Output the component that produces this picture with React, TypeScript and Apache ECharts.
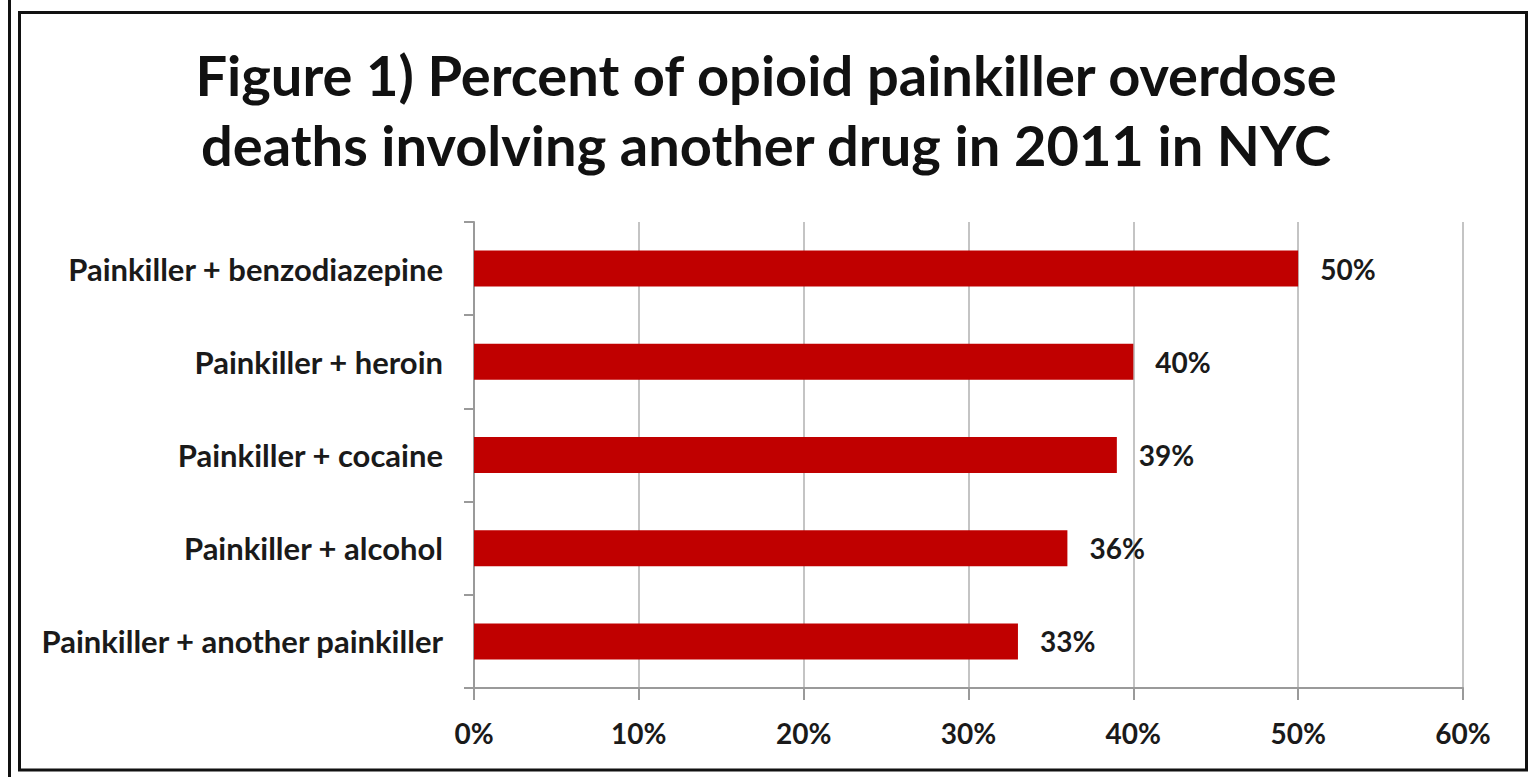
import React, { useEffect, useRef } from "react";
import * as echarts from "echarts";

const categories = [
  "Painkiller + benzodiazepine",
  "Painkiller + heroin",
  "Painkiller + cocaine",
  "Painkiller + alcohol",
  "Painkiller + another painkiller",
];
const values = [50, 40, 39, 36, 33];
const titleLines = [
  "Figure 1) Percent of opioid painkiller overdose",
  "deaths involving another drug in 2011 in NYC",
];

const FONT = "Lato";

export default function App() {
  const ref = useRef<HTMLDivElement>(null);
  useEffect(() => {
    if (!ref.current) return;
    const chart = echarts.init(ref.current, undefined, { renderer: "svg" });
    chart.setOption({
      animation: false,
      backgroundColor: "#ffffff",
      title: {
        text: titleLines.join("\n"),
        left: "center",
        top: 34,
        textStyle: {
          fontFamily: FONT,
          fontWeight: "bold",
          fontSize: 56,
          lineHeight: 70,
          color: "#111111",
        },
      },
      graphic: [
        {
          type: "line",
          shape: { x1: 9.5, y1: 0, x2: 9.5, y2: 777 },
          style: { stroke: "#111", lineWidth: 3 },
        },
        {
          type: "rect",
          shape: { x: 19.5, y: 12.5, width: 1507, height: 757.5 },
          style: { fill: "none", stroke: "#111", lineWidth: 3 },
        },
      ],
      grid: { left: 474, right: 69, top: 222, bottom: 89, containLabel: false },
      xAxis: {
        type: "value",
        min: 0,
        max: 60,
        interval: 10,
        axisLine: { show: true, lineStyle: { color: "#9a9a9a", width: 2 } },
        axisTick: { show: true, length: 12, lineStyle: { color: "#9a9a9a", width: 2 } },
        splitLine: { show: true, lineStyle: { color: "#c4c4c4", width: 2 } },
        axisLabel: {
          formatter: "{value}%",
          margin: 31,
          fontFamily: FONT,
          fontWeight: "bold",
          fontSize: 28,
          color: "#1a1a1a",
        },
      },
      yAxis: {
        type: "category",
        data: categories,
        inverse: true,
        axisLine: { show: true, lineStyle: { color: "#9a9a9a", width: 2 } },
        axisTick: { show: true, length: 10, interval: 0, lineStyle: { color: "#9a9a9a", width: 2 } },
        axisLabel: {
          margin: 31,
          fontFamily: FONT,
          fontWeight: "bold",
          fontSize: 31,
          color: "#1a1a1a",
        },
      },
      series: [
        {
          type: "bar",
          data: values,
          barWidth: 36,
          itemStyle: { color: "#c00000" },
          label: {
            show: true,
            position: "right",
            distance: 22,
            formatter: "{c}%",
            fontFamily: FONT,
            fontWeight: "bold",
            fontSize: 28,
            color: "#1a1a1a",
          },
        },
      ],
    });
    return () => chart.dispose();
  }, []);
  return (
    <div
      ref={ref}
      style={{ position: "fixed", left: 0, top: 0, width: 1532, height: 777 }}
    />
  );
}
